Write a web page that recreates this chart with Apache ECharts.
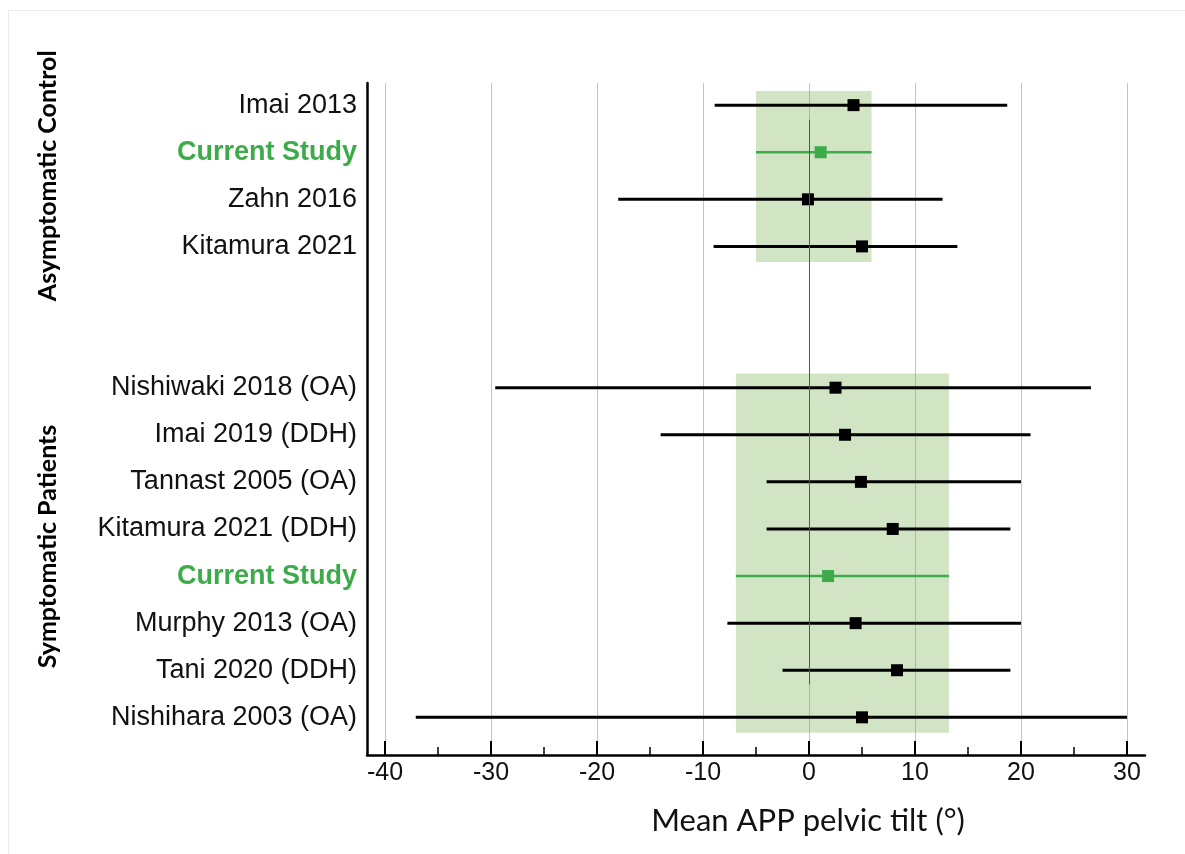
<!DOCTYPE html>
<html>
<head>
<meta charset="utf-8">
<title>Mean APP pelvic tilt</title>
<script src="https://cdn.jsdelivr.net/npm/echarts@6/dist/echarts.min.js"></script>
<style>
  html, body { margin: 0; padding: 0; background: #fff; }
  #chart { width: 1185px; height: 854px; }
</style>
</head>
<body>
<div id="chart"></div>
<script>
// rows top to bottom, '' = empty spacer row between the two groups
const studies = ['Imai 2013', 'Current Study', 'Zahn 2016', 'Kitamura 2021', '', '',
  'Nishiwaki 2018 (OA)', 'Imai 2019 (DDH)', 'Tannast 2005 (OA)', 'Kitamura 2021 (DDH)',
  'Current Study', 'Murphy 2013 (OA)', 'Tani 2020 (DDH)', 'Nishihara 2003 (OA)']
const means = [4.2, 1.1, -0.1, 5.0, null, null, 2.5, 3.4, 4.9, 7.9, 1.8, 4.4, 8.3, 5.0]
const lows = [-8.9, -5.0, -18.0, -9.0, null, null, -29.6, -14.0, -4.0, -4.0, -6.9, -7.7, -2.5, -37.1]
const highs = [18.7, 5.9, 12.6, 14.0, null, null, 26.6, 20.9, 20.0, 19.0, 13.2, 20.0, 19.0, 30.0]

const groupNames = ['Asymptomatic Control', 'Symptomatic Patients']
const groupFirst = [0, 6]
const groupLast = [3, 13]

const xTicks = [-40, -30, -20, -10, 0, 10, 20, 30]
const xMinorTicks = [-35, -25, -15, -5, 5, 15, 25]

const GREEN = '#3dab4a'
const CURRENT = 'Current Study'

const rows = studies.map((s, i) => i).filter((i) => studies[i] !== '')

// green band = CI of the current study in each group
const boxes = groupFirst.map((first, g) => {
  let cur = first
  for (let i = first; i <= groupLast[g]; i++) {
    if (studies[i] === CURRENT) cur = i
  }
  return [lows[cur], first, highs[cur], groupLast[g]]
})

const chart = echarts.init(document.getElementById('chart'))

chart.setOption({
  animation: false,
  backgroundColor: '#fff',
  grid: { left: 367, right: 40, top: 83, bottom: 99 },
  xAxis: [
    {
      type: 'value',
      min: -41.7,
      max: 31.7,
      name: 'Mean APP pelvic tilt (°)',
      nameLocation: 'middle',
      nameGap: 50,
      nameTextStyle: { fontFamily: 'Lato', fontSize: 31, color: '#111', padding: [0, 0, 0, 104] },
      axisLine: { onZero: false, lineStyle: { color: '#000', width: 2.5 } },
      axisTick: { inside: true, length: 14, customValues: xTicks, lineStyle: { color: '#000', width: 2 } },
      axisLabel: { customValues: xTicks, fontFamily: 'Liberation Sans', fontSize: 25, color: '#111', margin: 6 },
      splitLine: { show: true, lineStyle: { color: '#c4c4c4', width: 1 } },
    },
    {
      // only the short 5-step ticks
      type: 'value',
      min: -41.7,
      max: 31.7,
      position: 'bottom',
      axisLine: { show: false, onZero: false },
      axisTick: { inside: true, length: 8, customValues: xMinorTicks, lineStyle: { color: '#000', width: 1.5 } },
      axisLabel: { show: false },
      splitLine: { show: false },
    },
  ],
  yAxis: {
    type: 'value',
    inverse: true,
    min: -0.47,
    max: 13.8,
    axisLine: { show: true, onZero: false, lineStyle: { color: '#000', width: 2.5 } },
    axisTick: { show: false },
    splitLine: { show: false },
    axisLabel: {
      customValues: rows,
      margin: 10,
      formatter: (v) => (studies[v] === CURRENT ? '{cur|' + CURRENT + '}' : '{std|' + studies[v] + '}'),
      rich: {
        std: { fontFamily: 'Liberation Sans', fontSize: 27, color: '#111' },
        cur: { fontFamily: 'Liberation Sans', fontSize: 27, fontWeight: 'bold', color: GREEN },
      },
    },
  },
  series: [
    {
      name: 'band',
      type: 'custom',
      z: 1,
      silent: true,
      data: boxes,
      encode: { x: [0, 2], y: [1, 3] },
      renderItem: (params, api) => {
        const p1 = api.coord([api.value(0), api.value(1) - 0.3])
        const p2 = api.coord([api.value(2), api.value(3) + 0.33])
        return {
          type: 'rect',
          shape: { x: p1[0], y: p1[1], width: p2[0] - p1[0], height: p2[1] - p1[1] },
          style: { fill: 'rgba(112,173,71,0.32)' },
        }
      },
      markLine: {
        silent: true,
        symbol: 'none',
        label: { show: false },
        lineStyle: { color: '#555', width: 1, type: 'solid' },
        data: [[{ coord: [0, 0.31] }, { coord: [0, 12.3] }]],
      },
    },
    {
      name: 'range',
      type: 'custom',
      z: 3,
      silent: true,
      data: rows.map((i) => [lows[i], i, highs[i]]),
      encode: { x: [0, 2], y: 1 },
      renderItem: (params, api) => {
        const r = api.value(1)
        const a = api.coord([api.value(0), r])
        const b = api.coord([api.value(2), r])
        const cur = studies[r] === CURRENT
        return {
          type: 'line',
          shape: { x1: a[0], y1: a[1], x2: b[0], y2: b[1] },
          style: { stroke: cur ? GREEN : '#000', lineWidth: cur ? 2.5 : 3 },
        }
      },
    },
    {
      name: 'mean',
      type: 'scatter',
      z: 4,
      symbol: 'rect',
      symbolSize: 12,
      silent: true,
      data: rows.map((i) => ({
        value: [means[i], i],
        itemStyle: { color: studies[i] === CURRENT ? GREEN : '#000', opacity: 1 },
      })),
    },
  ],
})

// group titles on the left, centred on their rows
const groupText = groupNames.map((name, g) => {
  const cy = (chart.convertToPixel({ yAxisIndex: 0 }, groupFirst[g]) +
    chart.convertToPixel({ yAxisIndex: 0 }, groupLast[g])) / 2
  return {
    type: 'text',
    x: 48,
    y: g === 1 ? cy - 6 : cy,
    rotation: Math.PI / 2,
    style: {
      text: name,
      font: 'bold 25px Lato',
      fill: '#000',
      align: 'center',
      verticalAlign: 'middle',
    },
  }
})

chart.setOption({
  graphic: [
    {
      type: 'rect',
      silent: true,
      shape: { x: 8.5, y: 10.5, width: 1190, height: 860 },
      style: { fill: null, stroke: '#ececec', lineWidth: 1 },
    },
  ].concat(groupText),
})
</script>
</body>
</html>
